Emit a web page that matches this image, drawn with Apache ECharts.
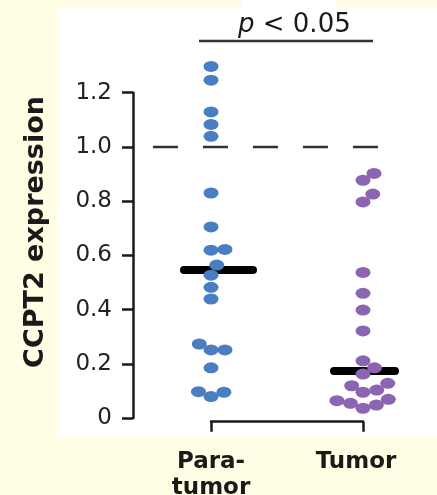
<!DOCTYPE html>
<html>
<head>
<meta charset="utf-8">
<script src="https://cdn.jsdelivr.net/npm/echarts@6/dist/echarts.min.js"></script>
<style>
html,body{margin:0;padding:0;background:#fffee5;}
#wrap{position:relative;width:437px;height:495px;overflow:hidden;}
.panel{position:absolute;background:#ffffff;}
#c{position:absolute;left:0;top:0;width:437px;height:495px;}
</style>
</head>
<body>
<div id="wrap">
  <div class="panel" style="left:57px;top:7px;width:380px;height:428px;"></div>
  <div class="panel" style="left:242px;top:0px;width:95px;height:8px;"></div>
  <div id="c"></div>
</div>
<script>
// ---- data ----
const categories = ['Para-\ntumor', 'Tumor'];
const paraTumor = [1.297, 1.246, 1.129, 1.083, 1.039, 0.830, 0.705, 0.619, 0.622, 0.564,
                   0.527, 0.482, 0.439, 0.273, 0.251, 0.251, 0.185, 0.097, 0.079, 0.095];
const tumor = [0.902, 0.877, 0.826, 0.797, 0.537, 0.460, 0.398, 0.321, 0.211, 0.185,
               0.162, 0.119, 0.128, 0.095, 0.103, 0.064, 0.054, 0.036, 0.048, 0.069];
const yTickValues = [0, 0.2, 0.4, 0.6, 0.8, 1.0, 1.2];
const referenceValue = 1.0;
const pText = 'p < 0.05';
const yTitle = 'CCPT2 expression';

// ---- styling / layout ----
const FONT = 'DejaVu Sans';
const DOT = [15, 11];
const dotColors = ['#4a7ec3', '#8b64b2'];
const INK = '#1a1a1a';
const PLOT_LEFT = 133, PLOT_RIGHT = 433, CAT0 = 211, CAT1 = 363, TOP = 92.7, BOTTOM = 77;
const PX_PER_UNIT = CAT1 - CAT0;
const medianExtentPx = [[-27, 42], [-29, 32]];
const labelShiftPx = [0, -7];
const refLineX = [-0.382, 1.11];   // in category units
const bracketX = [-0.079, 1.066];
const bracketY = 1.391;

function median(a) {
  const s = a.slice().sort((x, y) => x - y);
  const n = s.length;
  return n % 2 ? s[(n - 1) / 2] : (s[n / 2 - 1] + s[n / 2]) / 2;
}

function swarm(ys, w, h) {
  const order = ys.map((y, i) => i).sort((a, b) => ys[b] - ys[a]);
  const xs = new Array(ys.length);
  const placed = [];
  for (const i of order) {
    const y = ys[i];
    const cands = [0];
    for (const p of placed) {
      const dy = Math.abs(p.y - y);
      if (dy < h) {
        const dx = w * Math.sqrt(1 - (dy / h) * (dy / h));
        cands.push(p.x + dx, p.x - dx);
      }
    }
    cands.sort((a, b) => (Math.abs(a) - Math.abs(b)) || (b - a));
    let chosen = 0;
    for (const c of cands) {
      const ok = placed.every(p => {
        const dx = (p.x - c) / w, dy = (p.y - y) / h;
        return dx * dx + dy * dy >= 0.999;
      });
      if (ok) { chosen = c; break; }
    }
    xs[i] = chosen;
    placed.push({ x: chosen, y: y });
  }
  return xs;
}

const groups = [paraTumor, tumor];
const chart = echarts.init(document.getElementById('c'));

function hLine(x0, x1, y, style) {
  return {
    type: 'custom',
    xAxisIndex: 0, yAxisIndex: 0,
    clip: false,
    silent: true,
    z: 1,
    data: [[x0, x1, y]],
    renderItem: function (params, api) {
      const a = api.coord([api.value(0), api.value(2)]);
      const b = api.coord([api.value(1), api.value(2)]);
      return { type: 'line', shape: { x1: a[0], y1: a[1], x2: b[0], y2: b[1] }, style: style };
    }
  };
}

function buildSeries(xData) {
  const series = [];
  series.push({
    type: 'custom',
    xAxisIndex: 0, yAxisIndex: 0,
    clip: false,
    z: 2,
    silent: true,
    data: groups.map((g, i) => [i, median(g)]),
    renderItem: function (params, api) {
      const p = api.coord([api.value(0), api.value(1)]);
      const ext = medianExtentPx[params.dataIndex];
      return {
        type: 'line',
        shape: { x1: p[0] + ext[0], y1: p[1], x2: p[0] + ext[1], y2: p[1] },
        style: { stroke: '#000', lineWidth: 8, lineCap: 'round' }
      };
    }
  });
  groups.forEach((g, gi) => {
    series.push({
      type: 'scatter',
      xAxisIndex: 0, yAxisIndex: 0,
      clip: false,
      z: 3,
      symbol: 'circle',
      symbolSize: DOT,
      itemStyle: { color: dotColors[gi], opacity: 1 },
      data: g.map((v, i) => [xData ? xData[gi][i] : gi, v])
    });
  });
  series.push(hLine(refLineX[0], refLineX[1], referenceValue,
    { stroke: '#333', lineWidth: 2.5, lineDash: [25, 25] }));
  series.push(hLine(bracketX[0], bracketX[1], bracketY,
    { stroke: '#333', lineWidth: 2.5 }));
  return series;
}

const option = {
  animation: false,
  backgroundColor: 'transparent',
  title: {
    text: '{i|p} < 0.05',
    left: 238,
    top: 12,
    padding: 0,
    textStyle: {
      fontFamily: FONT, fontSize: 26, fontWeight: 'normal', color: INK,
      rich: { i: { fontFamily: FONT, fontSize: 26, fontStyle: 'italic', color: INK } }
    }
  },
  grid: [
    { left: PLOT_LEFT, right: 437 - PLOT_RIGHT, top: TOP, bottom: BOTTOM, outerBoundsMode: 'none', containLabel: false },
    { left: CAT0, right: 437 - CAT1, top: TOP, bottom: BOTTOM, outerBoundsMode: 'none', containLabel: false }
  ],
  xAxis: [
    {
      gridIndex: 0, type: 'value', show: false,
      min: -(CAT0 - PLOT_LEFT) / PX_PER_UNIT,
      max: (PLOT_RIGHT - CAT0) / PX_PER_UNIT
    },
    {
      gridIndex: 1,
      type: 'category',
      data: categories,
      boundaryGap: false,
      position: 'bottom',
      offset: 3.7,
      axisLine: { show: true, onZero: false, lineStyle: { color: INK, width: 2.5 } },
      axisTick: { show: true, length: 10, interval: 0, lineStyle: { color: INK, width: 2.5 } },
      axisLabel: {
        interval: 0, margin: 27, fontFamily: FONT, fontWeight: 'bold',
        fontSize: 23, lineHeight: 26, color: INK,
        formatter: function (v, i) { return labelShiftPx[i] ? '{s|' + v + '}' : v; },
        rich: {
          s: {
            fontFamily: FONT, fontWeight: 'bold', fontSize: 23, lineHeight: 26, color: INK,
            padding: [0, -2 * labelShiftPx[1], 0, 0]
          }
        }
      },
      splitLine: { show: false }
    }
  ],
  yAxis: [
    {
      gridIndex: 0,
      type: 'value',
      position: 'left',
      min: yTickValues[0],
      max: yTickValues[yTickValues.length - 1],
      interval: 0.2,
      axisLine: { show: true, onZero: false, lineStyle: { color: INK, width: 2.5 } },
      axisTick: { show: true, length: 11, lineStyle: { color: INK, width: 2.5 } },
      splitLine: { show: false },
      axisLabel: {
        margin: 21, fontFamily: FONT, fontSize: 23, color: '#222',
        formatter: v => (Math.abs(v) < 1e-9 ? '0' : v.toFixed(1))
      }
    },
    { gridIndex: 1, type: 'value', min: 0, max: 1, show: false }
  ],
  graphic: [{
    type: 'text',
    x: 36, y: 232,
    rotation: Math.PI / 2,
    style: {
      text: yTitle,
      font: 'bold 27px "DejaVu Sans"',
      fill: INK,
      textAlign: 'center', textVerticalAlign: 'middle',
      align: 'center', verticalAlign: 'middle'
    }
  }],
  series: buildSeries(null)
};

chart.setOption(option);

// beeswarm layout in pixel space using the library's scales
const xData = groups.map((g, gi) => {
  const ys = g.map(v => chart.convertToPixel({ yAxisIndex: 0 }, v));
  const offs = swarm(ys, DOT[0] - 1, DOT[1]);
  const cx = chart.convertToPixel({ xAxisIndex: 0 }, gi);
  return offs.map(o => chart.convertFromPixel({ xAxisIndex: 0 }, cx + o));
});
chart.setOption({ series: buildSeries(xData) });
</script>
</body>
</html>
